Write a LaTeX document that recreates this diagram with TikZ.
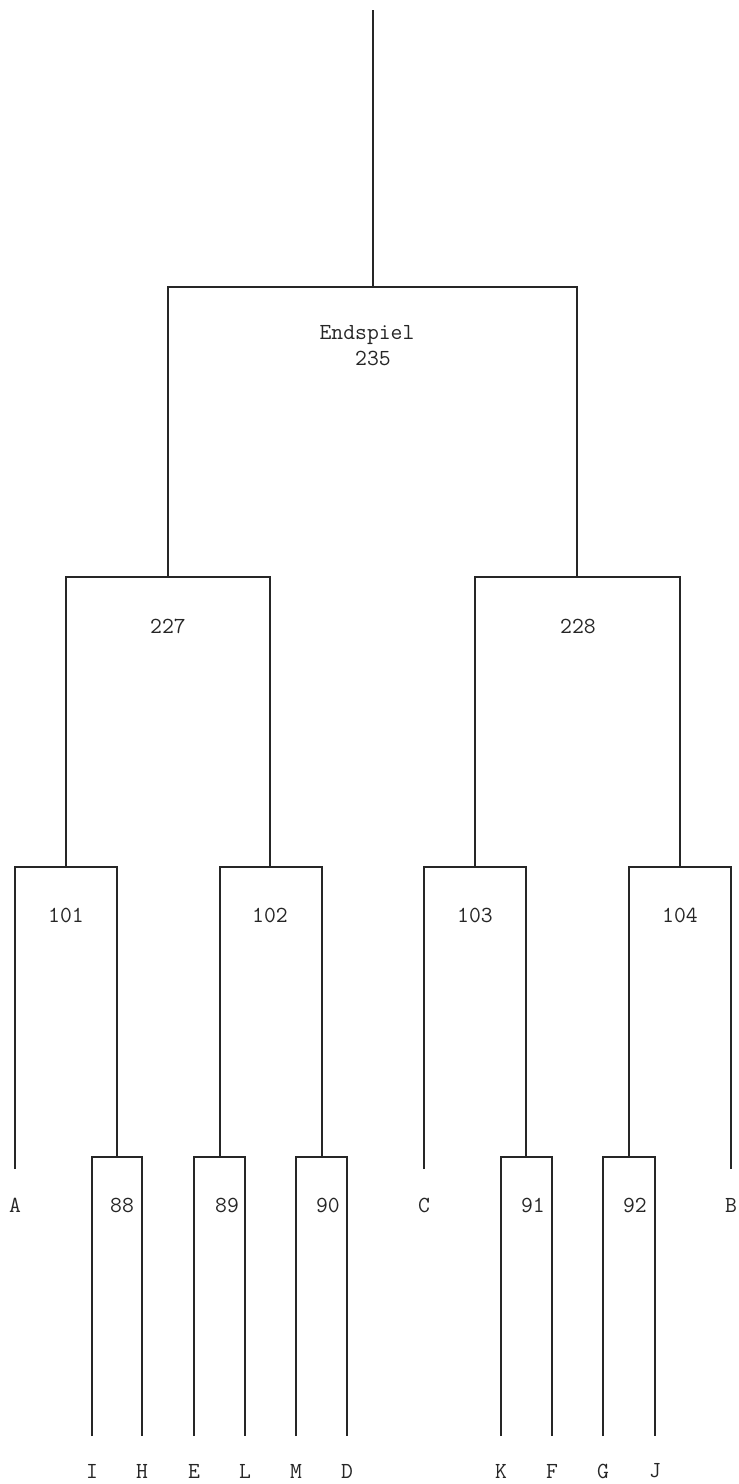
\documentclass[tikz,border=0pt]{standalone}
\usepackage{fontspec}
\begin{document}
\begin{tikzpicture}[x=1pt,y=-1pt,
  bracket/.style={draw=black!85,line width=1.3pt,line join=miter},
  lbl/.style={font=\fontsize{23}{26}\selectfont\ttfamily,text=black!85,inner sep=0pt,anchor=center}]
\useasboundingbox (0,0) rectangle (739,1484);
% junction coordinates
\coordinate (top) at (373,10);
\coordinate (Pf) at (373,287);
\coordinate (P227) at (168,577);
\coordinate (P228) at (577,577);
\coordinate (P101) at (66,867);
\coordinate (P102) at (270,867);
\coordinate (P103) at (475,867);
\coordinate (P104) at (680,867);
\coordinate (Aend) at (15,1169);
\coordinate (P88) at (117,1157);
\coordinate (P89) at (220,1157);
\coordinate (P90) at (322,1157);
\coordinate (Cend) at (424,1169);
\coordinate (P91) at (526,1157);
\coordinate (P92) at (629,1157);
\coordinate (Bend) at (731,1169);
\coordinate (Iend) at (92,1436);
\coordinate (Hend) at (142,1436);
\coordinate (Eend) at (194,1436);
\coordinate (Lend) at (245,1436);
\coordinate (Mend) at (296,1436);
\coordinate (Dend) at (347,1436);
\coordinate (Kend) at (501,1436);
\coordinate (Fend) at (552,1436);
\coordinate (Gend) at (603,1436);
\coordinate (Jend) at (655,1436);
% brackets
\path[bracket] (top) -- (Pf);
\path[bracket] (P227) |- (Pf) -| (P228);
\path[bracket] (P101) |- (P227) -| (P102);
\path[bracket] (P103) |- (P228) -| (P104);
\path[bracket] (Aend) |- (P101) -| (P88);
\path[bracket] (P89) |- (P102) -| (P90);
\path[bracket] (Cend) |- (P103) -| (P91);
\path[bracket] (P92) |- (P104) -| (Bend);
\path[bracket] (Iend) |- (P88) -| (Hend);
\path[bracket] (Eend) |- (P89) -| (Lend);
\path[bracket] (Mend) |- (P90) -| (Dend);
\path[bracket] (Kend) |- (P91) -| (Fend);
\path[bracket] (Gend) |- (P92) -| (Jend);
% labels
\node[lbl] (tEnd) at (367,335) {Endspiel};
\node[lbl] (t235) at (373,358) {235};
\node[lbl] (t227) at (168,626) {227};
\node[lbl] (t228) at (578,626) {228};
\node[lbl] (t101) at (66,915) {101};
\node[lbl] (t102) at (270,915) {102};
\node[lbl] (t103) at (475,915) {103};
\node[lbl] (t104) at (680,915) {104};
\node[lbl] (tA) at (15,1205) {A};
\node[lbl] (t88) at (122,1205) {88};
\node[lbl] (t89) at (227,1205) {89};
\node[lbl] (t90) at (328,1205) {90};
\node[lbl] (tC) at (424,1205) {C};
\node[lbl] (t91) at (533,1205) {91};
\node[lbl] (t92) at (635,1205) {92};
\node[lbl] (tB) at (731,1205) {B};
\node[lbl] (tI) at (92,1471) {I};
\node[lbl] (tH) at (142,1471) {H};
\node[lbl] (tE) at (194,1471) {E};
\node[lbl] (tL) at (245,1471) {L};
\node[lbl] (tM) at (296,1471) {M};
\node[lbl] (tD) at (347,1471) {D};
\node[lbl] (tK) at (501,1471) {K};
\node[lbl] (tF) at (552,1471) {F};
\node[lbl] (tG) at (603,1471) {G};
\node[lbl] (tJ) at (655,1471) {J};
\end{tikzpicture}
\end{document}
